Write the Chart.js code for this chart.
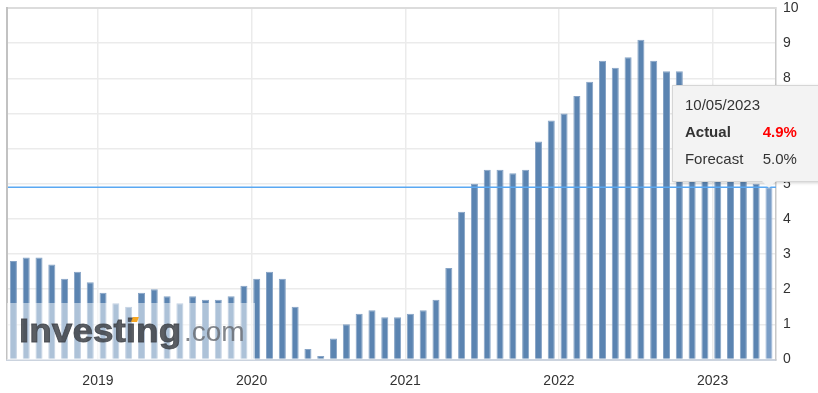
<!DOCTYPE html>
<html>
<head>
<meta charset="utf-8">
<script src="https://cdn.jsdelivr.net/npm/chart.js@4.4.0/dist/chart.umd.min.js"></script>
<style>
html, body { margin: 0; padding: 0; background: #fff; overflow: hidden; }
#wrap { position: relative; width: 818px; height: 393px; font-family: "Liberation Sans", Arial, sans-serif; }
#logo { position: absolute; background: rgba(255,255,255,0.5); overflow: hidden; }
#logo .big { position: absolute; left: 12px; top: 11px; font-size: 33px; font-weight: bold; color: rgba(62,66,72,0.85); -webkit-text-stroke: 0.8px rgba(62,66,72,0.85); line-height: 33px; transform: scaleX(1.12); transform-origin: left top; white-space: nowrap; }
#logo .com { position: absolute; left: 177px; top: 15px; font-size: 28px; color: rgba(100,104,110,0.8); line-height: 28px; }
#logo .dot { position: absolute; left: 125px; top: 14px; width: 6px; height: 5px; background: #f5a623; transform: skewX(-20deg); }
#tip { position: absolute; width: 160px; height: 95px; background: #f3f3f3; border: 1px solid #d6d6d6; box-shadow: 1px 1px 3px rgba(0,0,0,0.18); color: #333; font-size: 15px; }
#tip span { position: absolute; line-height: 18px; }
#tip .arrow { position: absolute; width: 0; height: 0; border-left: 7px solid transparent; border-right: 7px solid transparent; border-top: 7px solid #f3f3f3; }
</style>
</head>
<body>
<div id="wrap">
  <canvas id="cpiChart" width="818" height="393"></canvas>
  <div id="logo"><span class="big">Investing</span><span class="dot"></span><span class="com">.com</span></div>
  <div id="tip">
    <span id="tipDate" style="left:12px;top:10px;"></span>
    <span style="left:12px;top:37px;font-weight:bold;">Actual</span>
    <span id="tipActual" style="right:36px;top:37px;font-weight:bold;color:#f00;"></span>
    <span style="left:12px;top:64px;">Forecast</span>
    <span id="tipForecast" style="right:36px;top:64px;"></span>
    <div class="arrow" id="tipArrow"></div>
  </div>
</div>
<script>
// release month of each CPI print (YYYY-MM)
const releases = [
  '2018-06', '2018-07', '2018-08', '2018-09', '2018-10', '2018-11', '2018-12',
  '2019-01', '2019-02', '2019-03', '2019-04', '2019-05', '2019-06', '2019-07', '2019-08', '2019-09', '2019-10', '2019-11', '2019-12',
  '2020-01', '2020-02', '2020-03', '2020-04', '2020-05', '2020-06', '2020-07', '2020-08', '2020-09', '2020-10', '2020-11', '2020-12',
  '2021-01', '2021-02', '2021-03', '2021-04', '2021-05', '2021-06', '2021-07', '2021-08', '2021-09', '2021-10', '2021-11', '2021-12',
  '2022-01', '2022-02', '2022-03', '2022-04', '2022-05', '2022-06', '2022-07', '2022-08', '2022-09', '2022-10', '2022-11', '2022-12',
  '2023-01', '2023-02', '2023-03', '2023-04', '2023-05'
];

// CPI y/y (%)
const actual = [
  2.8, 2.9, 2.9, 2.7, 2.3, 2.5, 2.2,
  1.9, 1.6, 1.5, 1.9, 2.0, 1.8, 1.6, 1.8, 1.7, 1.7, 1.8, 2.1,
  2.3, 2.5, 2.3, 1.5, 0.3, 0.1, 0.6, 1.0, 1.3, 1.4, 1.2, 1.2,
  1.3, 1.4, 1.7, 2.6, 4.2, 5.0, 5.4, 5.4, 5.3, 5.4, 6.2, 6.8,
  7.0, 7.5, 7.9, 8.5, 8.3, 8.6, 9.1, 8.5, 8.2, 8.2, 7.7, 7.1,
  6.5, 6.4, 6.0, 5.0, 4.9
];

const yearTicks = [2019, 2020, 2021, 2022, 2023];
const yTicks = [0, 1, 2, 3, 4, 5, 6, 7, 8, 9, 10];

const hoverDate = '10/05/2023';
const hoverActual = '4.9%';
const hoverForecast = '5.0%';

// release around the 12th of the month -> fractional year
function toYear(s) {
  const [y, m] = s.split('-').map(Number);
  return y + (m - 1 + 0.4) / 12;
}

const xs = releases.map(toYear);
const points = xs.map((x, i) => ({ x: x, y: actual[i] }));
const last = points.length - 1;

const framePlugin = {
  id: 'frame',
  afterDatasetsDraw(chart) {
    const { ctx, chartArea, scales } = chart;
    const y = scales.y.getPixelForValue(actual[last]);
    ctx.save();
    ctx.strokeStyle = '#5aa8f2';
    ctx.lineWidth = 1.5;
    ctx.beginPath();
    ctx.moveTo(chartArea.left, y);
    ctx.lineTo(chartArea.right, y);
    ctx.stroke();
    ctx.restore();
  },
  afterDraw(chart) {
    const { ctx, chartArea } = chart;
    ctx.save();
    ctx.strokeStyle = '#dcdcdc';
    ctx.lineWidth = 2;
    ctx.beginPath();
    ctx.moveTo(chartArea.left, chartArea.top);
    ctx.lineTo(chartArea.right, chartArea.top);
    ctx.stroke();
    ctx.strokeStyle = '#c2c2c2';
    ctx.beginPath();
    ctx.moveTo(chartArea.left, chartArea.top - 1);
    ctx.lineTo(chartArea.left, chartArea.bottom);
    ctx.stroke();
    ctx.restore();
  }
};

const ctx = document.getElementById('cpiChart').getContext('2d');
const chart = new Chart(ctx, {
  type: 'bar',
  data: {
    datasets: [{
      label: 'CPI y/y',
      data: points,
      backgroundColor: c => c.dataIndex === last ? '#7b9ec7' : '#5b84b1',
      borderColor: c => c.dataIndex === last ? '#9db8d8' : '#86a3c5',
      borderWidth: { left: 1, right: 1, top: 1, bottom: 0 },
      barPercentage: 0.55,
      categoryPercentage: 1
    }]
  },
  options: {
    responsive: false,
    animation: false,
    events: [],
    layout: { padding: { left: 7, top: 8, right: 0, bottom: 0 } },
    plugins: {
      legend: { display: false },
      tooltip: { enabled: false }
    },
    scales: {
      x: {
        type: 'linear',
        offset: false,
        min: xs[0] - 0.5 / 12,
        max: xs[last] + 0.55 / 12,
        afterBuildTicks: s => { s.ticks = yearTicks.map(v => ({ value: v })); },
        afterFit: s => { s.height = 33.5; },
        grid: { color: '#ebebeb', lineWidth: 1.5, drawTicks: false, offset: false },
        border: { color: '#cbd3de', width: 2 },
        ticks: {
          padding: 13,
          color: '#333',
          font: { family: '"Liberation Sans", Arial, sans-serif', size: 14 },
          callback: v => String(v),
          maxRotation: 0
        }
      },
      y: {
        position: 'right',
        min: 0,
        max: 10,
        afterBuildTicks: s => { s.ticks = yTicks.map(v => ({ value: v })); },
        afterFit: s => { s.width = 42; s.paddingTop = 0; s.paddingBottom = 0; },
        grid: { color: '#ebebeb', lineWidth: 1.5, drawTicks: false },
        border: { color: '#c8c8c8', width: 1.5 },
        ticks: {
          padding: 7,
          color: '#333',
          font: { family: '"Liberation Sans", Arial, sans-serif', size: 14 }
        }
      }
    }
  },
  plugins: [framePlugin]
});

// watermark over the bottom-left of the plot
const area = chart.chartArea;
const logo = document.getElementById('logo');
logo.style.left = area.left + 'px';
logo.style.top = (area.bottom - 57) + 'px';
logo.style.width = '248px';
logo.style.height = '57px';

// hover box anchored on the last bar
const px = chart.scales.x.getPixelForValue(xs[last]);
const py = chart.scales.y.getPixelForValue(actual[last]);
const tip = document.getElementById('tip');
tip.style.left = (px - 97) + 'px';
tip.style.top = (py - 102) + 'px';
document.getElementById('tipDate').textContent = hoverDate;
document.getElementById('tipActual').textContent = hoverActual;
document.getElementById('tipForecast').textContent = hoverForecast;
const arrow = document.getElementById('tipArrow');
arrow.style.left = (97 - 8) + 'px';
arrow.style.top = '95px';
</script>
</body>
</html>
